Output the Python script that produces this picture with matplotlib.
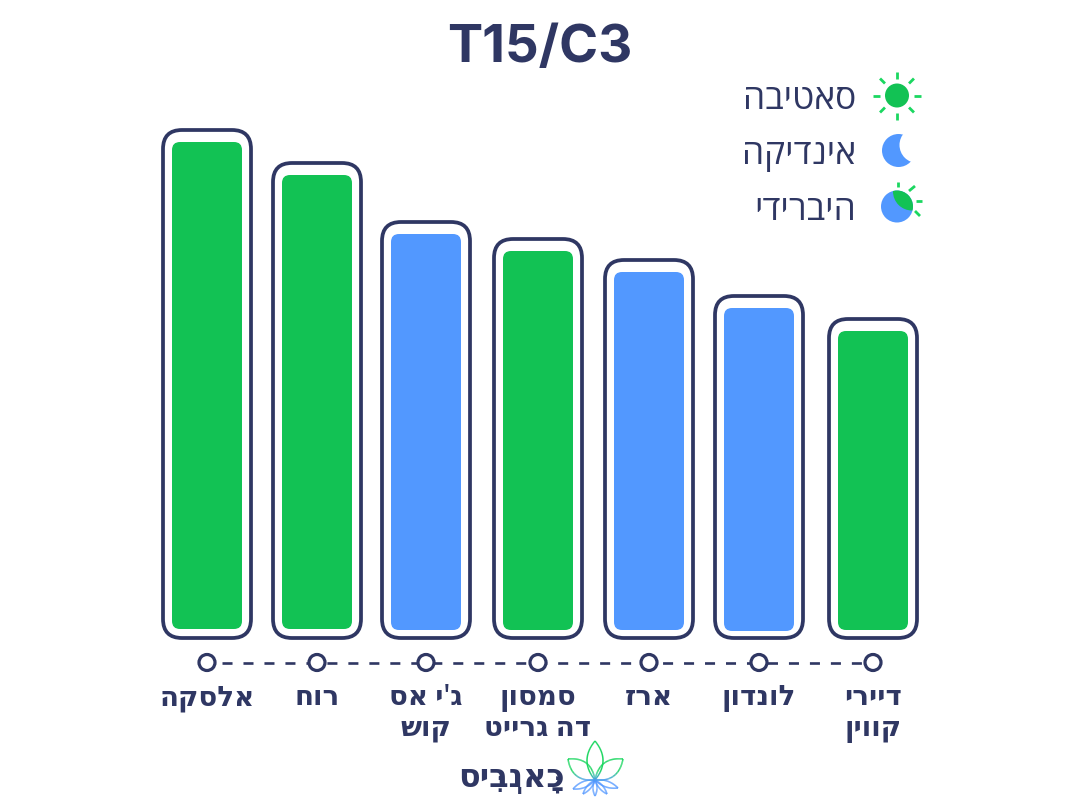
import unicodedata
import numpy as np
import matplotlib
matplotlib.use('Agg')
import matplotlib.pyplot as plt
from matplotlib.collections import LineCollection
from matplotlib.patches import Circle, FancyBboxPatch

# values (bar height in pixels of the reference)
strains = ["אלסקה", "רוח", "ג'י אס\nקוש", "סמסון\nדה גרייט", "ארז", "לונדון", "דיירי\nקווין"]
heights = [487, 454, 396, 379, 358, 323, 299]
kinds = ["sativa", "sativa", "indica", "sativa", "indica", "indica", "sativa"]
legend_labels = ["סאטיבה", "אינדיקה", "היברידי"]
title = "T15/C3"
logo_text = "כָּאנְבִּיס"

bar_x = [207, 317, 426, 538, 649, 759, 873]
bar_base = [630, 630, 631, 631, 631, 632, 631]

NAVY = '#2F3763'
GREEN = '#12C254'
BRIGHT = '#1BD760'
BLUE = '#5298FF'
colors = {'sativa': GREEN, 'indica': BLUE}
HEB = ['Open Sans', 'DejaVu Sans']


def visual(text):
    # matplotlib has no bidi, so flip each line. The points have no advance and
    # draw from the pen onwards, so they go in front of their letter
    lines = []
    for line in text.split('\n'):
        clusters = []
        for ch in line:
            if unicodedata.combining(ch) and clusters:
                clusters[-1] = ch + clusters[-1]
            else:
                clusters.append(ch)
        lines.append(''.join(reversed(clusters)))
    return '\n'.join(lines)


def ray(ax, x0, y0, x1, y1):
    ax.plot([x0, x1], [y0, y1], color=BRIGHT, lw=2, solid_capstyle='butt')


def leaf(ax, base, tip, width):
    base = np.array(base, float)
    tip = np.array(tip, float)
    d = tip - base
    n = np.array([-d[1], d[0]]) / np.hypot(*d) * width
    s = np.linspace(0, 1, 40)[:, None]
    edge = (1 - s) * base + s * tip
    bulge = 2 * s * (1 - s)
    a = edge + bulge * n
    b = edge - bulge * n
    pts = np.vstack([a, b[::-1]])
    segs = np.stack([pts[:-1], pts[1:]], axis=1)
    g = np.array(matplotlib.colors.to_rgb(BRIGHT))
    c = np.array(matplotlib.colors.to_rgb(BLUE))
    t = np.clip((segs[:, 0, 1] - 772) / 10, 0, 1)[:, None]
    ax.add_collection(LineCollection(segs, colors=g * (1 - t) + c * t, linewidths=1.1))


fig = plt.figure(figsize=(10.8, 8.12), dpi=100)
ax = fig.add_axes([0, 0, 1, 1])
ax.set_xlim(0, 1080)
ax.set_ylim(812, 0)
ax.axis('off')

ax.text(540, 48, title, family=['Inter', 'DejaVu Sans'], fontsize=38, fontweight='bold',
        color=NAVY, ha='center', va='center')

for x, h, kind, base in zip(bar_x, heights, kinds, bar_base):
    top = base - h
    ax.add_patch(FancyBboxPatch((x - 35, top), 70, h, boxstyle='round,pad=0,rounding_size=8',
                                fc=colors[kind], ec='none'))
    ax.add_patch(FancyBboxPatch((x - 44, top - 12), 88, 639 - top + 12,
                                boxstyle='round,pad=0,rounding_size=19',
                                fc='none', ec=NAVY, lw=2.7))

# dashed rail with the open circles
ax.plot([222, bar_x[-1]], [663.5, 663.5], color=NAVY, lw=1.9, dashes=(3.8, 4.15), zorder=2)
for x in bar_x:
    ax.add_patch(Circle((x, 663.5), 8, fc='white', ec=NAVY, lw=2.3, zorder=3))

for x, name in zip(bar_x, strains):
    ax.text(x, 683.5, visual(name), family=HEB, fontsize=20, fontweight='semibold', color=NAVY,
            ha='center', va='top', linespacing=1.05)

# legend
for y, label in zip([100, 155, 211], legend_labels):
    ax.text(856, y, visual(label), family=HEB, fontsize=25.5, color=NAVY, ha='right', va='center')

ax.add_patch(Circle((897, 96.5), 12, fc=GREEN, ec='none'))
for ang in np.arange(0, 360, 45):
    u = np.cos(np.radians(ang))
    v = np.sin(np.radians(ang))
    ray(ax, 897 + 17 * u, 96.5 + 17 * v, 897 + 24 * u, 96.5 + 24 * v)

ax.add_patch(Circle((898.5, 151.5), 16.5, fc=BLUE, ec='none'))
ax.add_patch(Circle((917.5, 146), 18, fc='white', ec='none'))

hybrid = Circle((897, 207.5), 16, fc=BLUE, ec='none')
ax.add_patch(hybrid)
half = Circle((912, 192.5), 19, fc=GREEN, ec='none')
ax.add_patch(half)
half.set_clip_path(hybrid)
ray(ax, 898, 183, 898, 188)
ray(ax, 909, 192, 915, 187)
ray(ax, 916, 202, 922, 202)
ray(ax, 915, 212, 920, 217)

# logo
for tip, w in [((595, 742), 16), ((568, 760), 16), ((623, 760), 16), ((573, 790), 6),
               ((618, 789), 6), ((583, 795), 4), ((595, 797), 4), ((607, 795), 4)]:
    leaf(ax, (595, 781), tip, w)
ax.text(458, 787, visual(logo_text), family=HEB, fontsize=23, fontweight='semibold', color=NAVY,
        ha='left', va='baseline')

fig.savefig('out.png', dpi=100)
